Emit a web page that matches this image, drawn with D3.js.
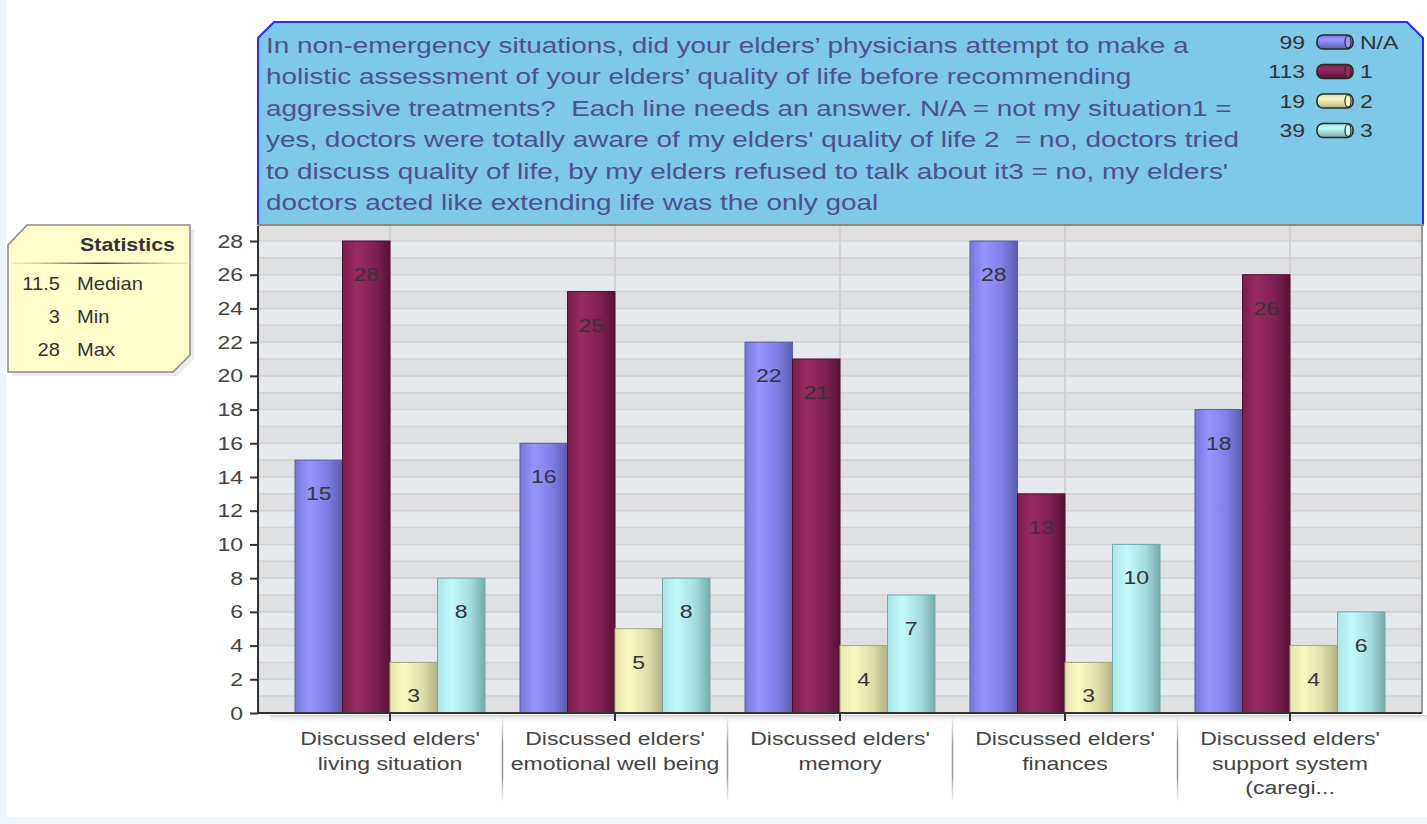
<!DOCTYPE html>
<html><head><meta charset="utf-8">
<script src="https://cdn.jsdelivr.net/npm/d3@7"></script>
<style>
html,body{margin:0;padding:0;background:#eef5fc;overflow:hidden;}
svg{display:block;}
text{font-family:"Liberation Sans",Arial,Helvetica,sans-serif;white-space:pre;}
</style></head><body>
<svg id="chart" width="1427" height="824"></svg>
<script>
// ---------------- data ----------------
const categories = [
  "Discussed elders'\nliving situation",
  "Discussed elders'\nemotional well being",
  "Discussed elders'\nmemory",
  "Discussed elders'\nfinances",
  "Discussed elders'\nsupport system\n(caregi..."
];
const seriesNames = ["N/A", "1", "2", "3"];
const valuesNA = [15, 16, 22, 28, 18];
const values1  = [28, 25, 21, 13, 26];
const values2  = [3, 5, 4, 3, 4];
const values3  = [8, 8, 7, 10, 6];
const yTickValues = [0, 2, 4, 6, 8, 10, 12, 14, 16, 18, 20, 22, 24, 26, 28];
const titleLines = [
  "In non-emergency situations, did your elders\u2019 physicians attempt to make a",
  "holistic assessment of your elders\u2019 quality of life before recommending",
  "aggressive treatments?  Each line needs an answer. N/A = not my situation1 =",
  "yes, doctors were totally aware of my elders' quality of life 2  = no, doctors tried",
  "to discuss quality of life, by my elders refused to talk about it3 = no, my elders'",
  "doctors acted like extending life was the only goal"
];
const statNames = ["Median", "Min", "Max"];

// ---------------- styling ----------------
const SX = 1.28; // horizontal stretch of glyphs seen in the reference
const seriesColors = {
  "N/A": ["#7676da", "#9696ff", "#7e7ee6", "#5c5cac"],
  "1":   ["#7c1e4c", "#982a60", "#802052", "#581336"],
  "2":   ["#e6e6aa", "#f9f9c2", "#dedeaa", "#b2b286"],
  "3":   ["#aae6e6", "#c2f9f9", "#a6dede", "#78aaaa"]
};
const strokeColors = {"N/A": "#5a5aa8", "1": "#4e1030", "2": "#a8a882", "3": "#78a6a6"};

const svg = d3.select("#chart");
const plot = {left: 258, right: 1422, top: 226, bottom: 713};

svg.append("rect").attr("x", 6).attr("y", 0).attr("width", 1421).attr("height", 817).attr("fill", "#ffffff");

const defs = svg.append("defs");
seriesNames.forEach((s, i) => {
  const g = defs.append("linearGradient").attr("id", "bar" + i).attr("x1", 0).attr("x2", 1).attr("y1", 0).attr("y2", 0);
  [0, 0.3, 0.68, 1].forEach((o, k) => g.append("stop").attr("offset", o).attr("stop-color", seriesColors[s][k]));
  const lg = defs.append("linearGradient").attr("id", "leg" + i).attr("x1", 0).attr("x2", 0).attr("y1", 0).attr("y2", 1);
  [0, 0.35, 1].forEach((o, k) => lg.append("stop").attr("offset", o).attr("stop-color", [seriesColors[s][2], seriesColors[s][1], seriesColors[s][3]][k]));
});
const sepG = defs.append("linearGradient").attr("id", "sep").attr("x1", 0).attr("x2", 0).attr("y1", 0).attr("y2", 1);
[[0, "#bbb", 0.2], [0.3, "#999", 1], [0.7, "#999", 1], [1, "#bbb", 0.1]].forEach(d => sepG.append("stop").attr("offset", d[0]).attr("stop-color", d[1]).attr("stop-opacity", d[2]));
const statSep = defs.append("linearGradient").attr("id", "statsep").attr("x1", 0).attr("x2", 1).attr("y1", 0).attr("y2", 0);
[[0, "#999", 0.2], [0.5, "#444", 1], [1, "#999", 0.2]].forEach(d => statSep.append("stop").attr("offset", d[0]).attr("stop-color", d[1]).attr("stop-opacity", d[2]));
const shadowG = defs.append("linearGradient").attr("id", "shadow").attr("x1", 0).attr("x2", 0).attr("y1", 0).attr("y2", 1);
[[0, "#c8c8c8", 0.8], [1, "#ffffff", 0]].forEach(d => shadowG.append("stop").attr("offset", d[0]).attr("stop-color", d[1]).attr("stop-opacity", d[2]));
defs.append("clipPath").attr("id", "plotclip").append("rect")
  .attr("x", plot.left).attr("y", plot.top).attr("width", plot.right - plot.left).attr("height", plot.bottom - plot.top);

function stext(parent, x, y, str, o = {}) {
  const g = parent.append("g").attr("transform", `translate(${x},${y}) scale(${o.sx || SX},1)`);
  return g.append("text")
    .attr("text-anchor", o.anchor || "start")
    .attr("font-size", o.size || 18)
    .attr("font-weight", o.weight || "normal")
    .attr("fill", o.fill || "#333")
    .text(str);
}

// ---------------- scales ----------------
const x = d3.scaleBand().domain(categories).range([277.5, 1402.5]);
const xs = d3.scaleBand().domain(seriesNames).range([17.5, 207.5]);
const y = d3.scaleLinear().domain([0, 28]).range([plot.bottom, 241]);

// ---------------- plot background ----------------
svg.append("rect").attr("x", plot.left + 12).attr("y", plot.bottom + 2).attr("width", 1427 - plot.left - 12).attr("height", 8).attr("fill", "url(#shadow)");
const bg = svg.append("g").attr("clip-path", "url(#plotclip)");
bg.append("rect").attr("x", plot.left).attr("y", plot.top).attr("width", plot.right - plot.left).attr("height", plot.bottom - plot.top).attr("fill", "#dfdfe1");
const bandKs = d3.range(0, 29);
bg.selectAll("rect.band").data(bandKs).join("rect").attr("class", "band")
  .attr("x", plot.left).attr("width", plot.right - plot.left)
  .attr("y", k => y(k + 1)).attr("height", k => y(k) - y(k + 1))
  .attr("fill", k => k % 2 === 1 ? "#e5e8ec" : "#dfe0e2");
bg.selectAll("line.hg").data(d3.range(1, 29)).join("line").attr("class", "hg")
  .attr("x1", plot.left).attr("x2", plot.right).attr("y1", k => y(k)).attr("y2", k => y(k))
  .attr("stroke", "#d2d2d4").attr("stroke-width", 1.6);
bg.selectAll("line.vg").data(categories).join("line").attr("class", "vg")
  .attr("x1", c => x(c) + x.bandwidth() / 2).attr("x2", c => x(c) + x.bandwidth() / 2)
  .attr("y1", plot.top).attr("y2", plot.bottom)
  .attr("stroke", "#d2d2d4").attr("stroke-width", 2);
svg.append("line").attr("x1", plot.right).attr("x2", plot.right).attr("y1", plot.top).attr("y2", plot.bottom).attr("stroke", "#9a9a9a").attr("stroke-width", 2);

// ---------------- bars ----------------
const seriesValues = [valuesNA, values1, values2, values3];
const records = [];
categories.forEach((c, i) => seriesNames.forEach((s, j) => records.push({c, s, j, v: seriesValues[j][i]})));
const barG = svg.append("g");
barG.selectAll("rect").data(records).join("rect")
  .attr("x", d => x(d.c) + xs(d.s)).attr("width", xs.bandwidth())
  .attr("y", d => y(d.v)).attr("height", d => y(0) - y(d.v))
  .attr("fill", d => `url(#bar${d.j})`)
  .attr("stroke", d => strokeColors[d.s]).attr("stroke-width", 1);
records.forEach(d => {
  stext(barG, x(d.c) + xs(d.s) + xs.bandwidth() / 2, y(d.v) + 40, String(d.v), {anchor: "middle", size: 18, fill: "#353535"});
});

// ---------------- axes ----------------
const yAxis = svg.append("g").attr("transform", `translate(${plot.left},0)`)
  .call(d3.axisLeft(y).tickValues(yTickValues).tickSize(8).tickSizeOuter(0));
yAxis.select(".domain").remove();
yAxis.selectAll(".tick line").attr("stroke", "#333").attr("stroke-width", 2);
yAxis.selectAll(".tick text").remove();
yTickValues.forEach(t => stext(svg, plot.left - 15, y(t) + 6.5, String(t), {anchor: "end", size: 18, fill: "#444"}));
svg.append("line").attr("x1", plot.left).attr("x2", plot.left).attr("y1", plot.top).attr("y2", plot.bottom + 1).attr("stroke", "#333").attr("stroke-width", 2);

const xAxis = svg.append("g").attr("transform", `translate(0,${plot.bottom})`)
  .call(d3.axisBottom(x).tickSize(8).tickSizeOuter(0));
xAxis.select(".domain").remove();
xAxis.selectAll(".tick line").attr("stroke", "#333").attr("stroke-width", 2);
xAxis.selectAll(".tick text").remove();
svg.append("line").attr("x1", plot.left).attr("x2", plot.right).attr("y1", plot.bottom).attr("y2", plot.bottom).attr("stroke", "#333").attr("stroke-width", 2);
categories.forEach((c, i) => {
  const cx = x(c) + x.bandwidth() / 2;
  c.split("\n").forEach((line, k) => stext(svg, cx, 745 + k * 24.5, line, {anchor: "middle", size: 18, fill: "#444"}));
  if (i > 0) svg.append("rect").attr("x", x(c) - 0.75).attr("y", 718).attr("width", 1.5).attr("height", 84).attr("fill", "url(#sep)");
});

// ---------------- title box ----------------
const tb = {l: 258, r: 1423, t: 22, b: 225, c: 16};
svg.append("path")
  .attr("d", `M${tb.l},${tb.b} L${tb.l},${tb.t + tb.c} L${tb.l + tb.c},${tb.t} L${tb.r - tb.c},${tb.t} L${tb.r},${tb.t + tb.c} L${tb.r},${tb.b} Z`)
  .attr("fill", "#7ec8e8");
svg.append("path")
  .attr("d", `M${tb.l},${tb.b} L${tb.l},${tb.t + tb.c} L${tb.l + tb.c},${tb.t} L${tb.r - tb.c},${tb.t} L${tb.r},${tb.t + tb.c} L${tb.r},${tb.b}`)
  .attr("fill", "none").attr("stroke", "#2b2bff").attr("stroke-width", 2);
svg.append("line").attr("x1", tb.l).attr("x2", tb.r + 1).attr("y1", tb.b).attr("y2", tb.b).attr("stroke", "#8a8a8a").attr("stroke-width", 2);
titleLines.forEach((line, i) => stext(svg, 266, 53 + i * 31.4, line, {size: 21.8, fill: "#4e5090"}));

// legend
seriesNames.forEach((s, i) => {
  const cy = 42 + i * 29.5;
  stext(svg, 1305, cy + 6.5, String(d3.sum(seriesValues[i])), {anchor: "end", size: 18, fill: "#333"});
  svg.append("rect").attr("x", 1317).attr("y", cy - 7).attr("width", 36).attr("height", 14).attr("rx", 6).attr("ry", 6)
    .attr("fill", `url(#leg${i})`).attr("stroke", "#2a2a2a").attr("stroke-width", 1.6);
  svg.append("ellipse").attr("cx", 1348).attr("cy", cy).attr("rx", 3).attr("ry", 6)
    .attr("fill", seriesColors[s][1]).attr("stroke", "#2a2a2a").attr("stroke-width", 1.2);
  stext(svg, 1360, cy + 6.5, s, {size: 18, fill: "#333"});
});

// ---------------- statistics box ----------------
const allVals = seriesValues.flat();
const statVals = [d3.median(allVals), d3.min(allVals), d3.max(allVals)];
svg.append("path").attr("d", "M12,249 L31,229 L194,229 L194,359 L177,376 L12,376 Z").attr("fill", "#000").attr("opacity", 0.08);
svg.append("path").attr("d", "M8,245 L27,225 L190,225 L190,355 L173,372 L8,372 Z")
  .attr("fill", "#ffffcc").attr("stroke", "#8a8a8a").attr("stroke-width", 1.5);
stext(svg, 175, 250.5, "Statistics", {anchor: "end", size: 17.5, weight: "bold", fill: "#333", sx: 1.22});
svg.append("rect").attr("x", 12).attr("y", 262.5).attr("width", 176).attr("height", 1.5).attr("fill", "url(#statsep)");
statNames.forEach((n, i) => {
  const by = 289.5 + i * 33;
  stext(svg, 60, by, String(statVals[i]), {anchor: "end", size: 17.5, fill: "#333", sx: 1.15});
  stext(svg, 77, by, n, {size: 17.5, fill: "#333", sx: 1.15});
});
</script>
</body></html>
